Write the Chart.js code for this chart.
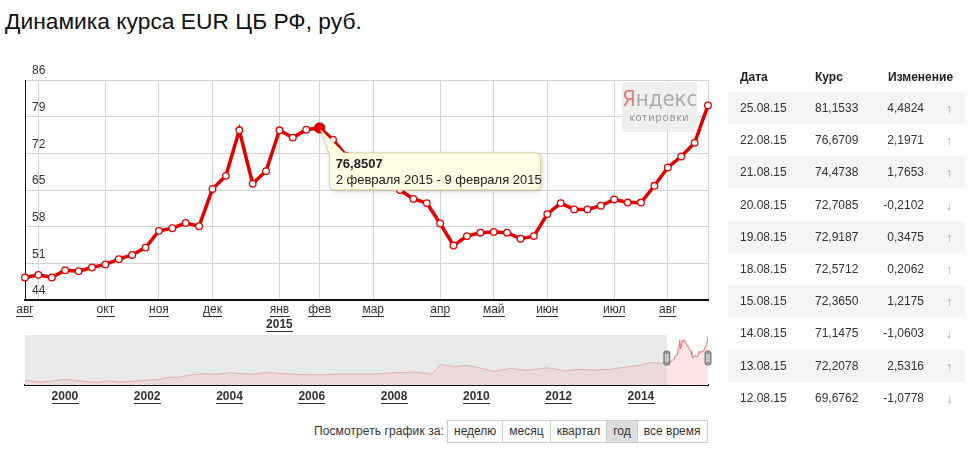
<!DOCTYPE html>
<html lang="ru">
<head>
<meta charset="utf-8">
<title>Динамика курса EUR ЦБ РФ</title>
<script src="https://cdn.jsdelivr.net/npm/chart.js@4.4.1/dist/chart.umd.min.js"></script>
<style>
  body { margin: 0; background: #fff; font-family: Arial, "Liberation Sans", sans-serif; color: #333; }
  #page { position: relative; width: 976px; height: 465px; overflow: hidden; }
  h1 { position: absolute; left: 5px; top: 8px; margin: 0; font-weight: normal; font-size: 22.8px; color: #111; white-space: nowrap; }
  #mainWrap { position: absolute; left: 0; top: 55px; width: 720px; height: 285px; }
  #navWrap { position: absolute; left: 0; top: 330px; width: 720px; height: 80px; }
  .logo { position: absolute; left: 622px; top: 82px; width: 75px; height: 50px; background: rgba(236,236,236,0.85); border-radius: 3px; text-align: center; }
  .logo .ya { font-family: "Liberation Sans Narrow", "DejaVu Sans Condensed", sans-serif; font-size: 22px; color: #aaa; margin-top: 6px; line-height: 22px; }
  .logo .ya b { font-weight: normal; color: #e57c7c; }
  .logo .kt { font-size: 11px; color: #999; letter-spacing: 1px; line-height: 14px; }
  .row { position: absolute; left: 728px; width: 237px; height: 32px; font-size: 12px; }
  .row span { position: absolute; top: 50%; transform: translateY(-50%); white-space: nowrap; }
  .row.grey { background: #f5f5f7; }
  .row.head span { font-weight: bold; color: #222; }
  .row span.up, .row span.down { font-size: 12px; transform: translateY(-45%); }
  .up { color: #62c462; }
  .down { color: #d98a8a; }
  .period { position: absolute; left: 314px; top: 420px; font-size: 12px; line-height: 23px; letter-spacing: 0.1px; }
  .btns { position: absolute; left: 447px; top: 420px; height: 23px; display: flex; border: 1px solid #ccc; box-sizing: border-box; }
  .btns div { padding: 0 6px; line-height: 21px; font-size: 12px; border-left: 1px solid #ccc; }
  .btns div:first-child { border-left: none; }
  .btns div.on { background: #ddd; }
</style>
</head>
<body>
<div id="page">
  <h1>Динамика курса EUR ЦБ РФ, руб.</h1>
  <div id="mainWrap"><canvas id="mainChart"></canvas></div>
  <div id="navWrap"><canvas id="navChart"></canvas></div>
  <div class="logo"><div class="ya"><b>Я</b>ндекс</div><div class="kt">котировки</div></div>
  <div id="table"></div>
  <div class="period">Посмотреть график за:</div>
  <div class="btns"><div>неделю</div><div>месяц</div><div>квартал</div><div class="on">год</div><div>все время</div></div>
</div>
<script>
// weekly EUR rate, Aug 2014 - Aug 2015
const eurRate = [48.3, 48.8, 48.3, 49.7, 49.5, 50.2, 50.8, 51.8, 52.6, 54.0,
  57.2, 57.7, 58.7, 58.1, 65.2, 67.7, 76.4, 66.2, 68.6, 76.4,
  75.0, 76.5, 76.8507, 74.6, 71.5, 70.3, 68.9, 67.2, 65.0, 63.3,
  62.5, 58.6, 54.4, 56.2, 56.85, 57.0, 56.85, 55.7, 56.2, 60.4,
  62.5, 61.3, 61.3, 62.0, 63.2, 62.6, 62.6, 65.8, 69.3, 71.4,
  74.0, 81.1533];

const monthTickIdx = [0, 6, 10, 14, 19, 22, 26, 31, 35, 39, 44, 48];
const monthTickText = ['авг', 'окт', 'ноя', 'дек', 'янв', 'фев', 'мар', 'апр', 'май', 'июн', 'июл', 'авг'];
const gridIdx = [1, 6, 10, 14, 19, 22, 26, 31, 35, 39, 44, 48, 51];
const yearTickIdx = 19;
const yearTickText = '2015';

const highlightIdx = 22;
const tooltipLines = ['76,8507', '2 февраля 2015 - 9 февраля 2015'];

// long history for the navigator
const histYears = [1999.0, 1999.4, 1999.8, 2000.04, 2000.5, 2000.85, 2001.05, 2001.34, 2001.83, 2002.3,
  2002.47, 2002.8, 2003.1, 2003.45, 2003.7, 2004.0, 2004.3, 2004.58, 2004.9, 2005.4,
  2005.8, 2006.2, 2006.6, 2007.0, 2007.5, 2008.0, 2008.5, 2008.8, 2008.92, 2009.13,
  2009.45, 2009.78, 2010.1, 2010.42, 2010.83, 2011.23, 2011.72, 2012.2, 2012.5, 2012.86,
  2013.27, 2013.67, 2014.0, 2014.24, 2014.45, 2014.63];
const histRates = [27.0, 24.5, 26.5, 28.0, 25.3, 24.0, 26.3, 24.5, 26.3, 28.0,
  30.3, 30.8, 34.0, 35.0, 34.2, 36.3, 35.0, 34.3, 36.6, 34.6,
  34.0, 33.5, 34.5, 34.3, 34.5, 36.3, 36.8, 35.5, 34.3, 46.5,
  43.7, 45.2, 42.0, 37.8, 41.5, 39.3, 42.3, 38.5, 40.5, 39.6,
  40.5, 43.5, 45.5, 49.0, 47.5, 48.3];
const navYears = [2000, 2002, 2004, 2006, 2008, 2010, 2012, 2014];
const navStart = 2014.63;
const navEnd = 2015.63;

const tableDates = ['25.08.15', '22.08.15', '21.08.15', '20.08.15', '19.08.15', '18.08.15', '15.08.15', '14.08.15', '13.08.15', '12.08.15'];
const tableRates = ['81,1533', '76,6709', '74,4738', '72,7085', '72,9187', '72,5712', '72,3650', '71,1475', '72,2078', '69,6762'];
const tableChanges = ['4,4824', '2,1971', '1,7653', '-0,2102', '0,3475', '0,2062', '1,2175', '-1,0603', '2,5316', '-1,0778'];

const RED = '#e10000';
const FONT = 'Arial, "Liberation Sans", sans-serif';

function underlinedText(ctx, text, x, y) {
  ctx.fillText(text, x, y);
  const w = ctx.measureText(text).width;
  ctx.fillRect(Math.round(x - w / 2), Math.round(y + 6), Math.round(w), 1);
}

const monthLabels = {
  id: 'monthLabels',
  afterDraw(chart) {
    const { ctx, chartArea } = chart;
    const x = chart.scales.x;
    ctx.save();
    ctx.fillStyle = '#333';
    ctx.textAlign = 'center';
    ctx.textBaseline = 'middle';
    ctx.font = '12px ' + FONT;
    monthTickIdx.forEach((idx, k) => {
      underlinedText(ctx, monthTickText[k], x.getPixelForValue(idx), chartArea.bottom + 10);
    });
    ctx.font = 'bold 12px ' + FONT;
    underlinedText(ctx, yearTickText, x.getPixelForValue(yearTickIdx), chartArea.bottom + 25);
    ctx.restore();
  }
};

const pointTooltip = {
  id: 'pointTooltip',
  afterDraw(chart) {
    const { ctx } = chart;
    const pt = chart.getDatasetMeta(0).data[highlightIdx];
    const bx = pt.x + 10, by = pt.y + 25, bw = 211, bh = 37, r = 5;
    ctx.save();
    ctx.beginPath();
    ctx.moveTo(pt.x + 1, pt.y + 2);
    ctx.lineTo(bx + 14, by);
    ctx.lineTo(bx + bw - r, by);
    ctx.arcTo(bx + bw, by, bx + bw, by + r, r);
    ctx.lineTo(bx + bw, by + bh - r);
    ctx.arcTo(bx + bw, by + bh, bx + bw - r, by + bh, r);
    ctx.lineTo(bx + r, by + bh);
    ctx.arcTo(bx, by + bh, bx, by + bh - r, r);
    ctx.lineTo(bx, by + 2);
    ctx.closePath();
    ctx.shadowColor = 'rgba(0,0,0,0.25)';
    ctx.shadowBlur = 4;
    ctx.shadowOffsetX = 1;
    ctx.shadowOffsetY = 1;
    ctx.fillStyle = '#fffde6';
    ctx.fill();
    ctx.shadowColor = 'transparent';
    ctx.strokeStyle = '#ddd3a0';
    ctx.lineWidth = 1;
    ctx.stroke();
    ctx.fillStyle = '#222';
    ctx.textBaseline = 'middle';
    ctx.textAlign = 'left';
    ctx.font = 'bold 13px ' + FONT;
    ctx.fillText(tooltipLines[0], bx + 6, by + 11);
    ctx.font = '13px ' + FONT;
    ctx.fillText(tooltipLines[1], bx + 6, by + 27);
    ctx.restore();
  }
};

new Chart(document.getElementById('mainChart'), {
  type: 'line',
  data: {
    labels: eurRate.map((v, i) => i),
    datasets: [{
      data: eurRate,
      borderColor: RED,
      borderWidth: 3.5,
      tension: 0,
      clip: 6,
      pointRadius: c => c.dataIndex === highlightIdx ? 5 : 3.3,
      pointBackgroundColor: c => c.dataIndex === highlightIdx ? RED : '#fff',
      pointBorderColor: RED,
      pointBorderWidth: 1.3
    }]
  },
  options: {
    responsive: true,
    maintainAspectRatio: false,
    animation: false,
    layout: { padding: { left: 25, right: 12, top: 25, bottom: 0 } },
    plugins: { legend: { display: false }, tooltip: { enabled: false } },
    scales: {
      x: {
        ticks: { display: false },
        grid: {
          color: c => gridIdx.includes(c.index) ? '#d4d4d4' : 'rgba(0,0,0,0)',
          drawTicks: false
        },
        border: { color: '#111', width: 2 },
        afterFit(s) { s.height = 40; }
      },
      y: {
        min: 44,
        max: 86,
        ticks: {
          stepSize: 7,
          mirror: true,
          padding: 7,
          labelOffset: -9,
          color: '#333',
          font: { size: 12, family: FONT }
        },
        grid: { color: '#d4d4d4', drawTicks: false },
        border: { color: '#111', width: 1 },
        afterFit(s) { s.width = 0; }
      }
    }
  },
  plugins: [monthLabels, pointTooltip]
});

const navDecor = {
  id: 'navDecor',
  beforeDatasetsDraw(chart) {
    const { ctx, chartArea } = chart;
    const sx = chart.scales.x.getPixelForValue(navStart);
    ctx.save();
    ctx.fillStyle = '#e9e9e9';
    ctx.fillRect(chartArea.left, chartArea.top, sx - chartArea.left, chartArea.bottom - chartArea.top);
    ctx.restore();
  },
  afterDraw(chart) {
    const { ctx, chartArea } = chart;
    const x = chart.scales.x;
    ctx.save();
    [x.getPixelForValue(navStart), x.getPixelForValue(navEnd)].forEach(px => {
      const cy = 28;
      ctx.fillStyle = '#9a9a9a';
      ctx.strokeStyle = '#777';
      ctx.beginPath();
      ctx.roundRect(px - 3, cy - 7, 6, 14, 2);
      ctx.fill();
      ctx.stroke();
      ctx.fillStyle = '#eee';
      ctx.fillRect(px - 1.5, cy - 4, 1, 8);
      ctx.fillRect(px + 0.5, cy - 4, 1, 8);
    });
    ctx.fillStyle = '#333';
    ctx.textAlign = 'center';
    ctx.textBaseline = 'middle';
    ctx.font = 'bold 12px ' + FONT;
    navYears.forEach(yr => underlinedText(ctx, String(yr), x.getPixelForValue(yr), chartArea.bottom + 12));
    ctx.restore();
  }
};

new Chart(document.getElementById('navChart'), {
  type: 'line',
  data: {
    datasets: [{
      data: histYears.map((yr, i) => ({ x: yr, y: histRates[i] })),
      borderColor: '#dcb4b4',
      borderWidth: 1,
      backgroundColor: 'rgba(236,200,200,0.45)',
      fill: 'start',
      pointRadius: 0,
      tension: 0
    }, {
      data: eurRate.map((v, i) => ({ x: navStart + (navEnd - navStart) * i / (eurRate.length - 1), y: v })),
      borderColor: '#e36b6b',
      borderWidth: 1,
      backgroundColor: '#fde4e4',
      fill: 'start',
      pointRadius: 0,
      tension: 0
    }]
  },
  options: {
    responsive: true,
    maintainAspectRatio: false,
    animation: false,
    layout: { padding: { left: 25, right: 12, top: 5, bottom: 0 } },
    plugins: { legend: { display: false }, tooltip: { enabled: false } },
    scales: {
      x: {
        type: 'linear',
        min: 1999.03,
        max: navEnd,
        ticks: { display: false },
        grid: { display: false },
        border: { color: '#111', width: 2 },
        afterFit(s) { s.height = 25; }
      },
      y: { display: false, min: 21, max: 83 }
    }
  },
  plugins: [navDecor]
});

// right-hand table
const table = document.getElementById('table');
function addRow(top, cls, cells) {
  const row = document.createElement('div');
  row.className = 'row ' + cls;
  row.style.top = top + 'px';
  row.innerHTML = cells;
  table.appendChild(row);
}
addRow(61, 'head', '<span style="left:12px">Дата</span><span style="left:87px">Курс</span><span style="left:160px">Изменение</span>');
tableDates.forEach((d, k) => {
  const neg = tableChanges[k].startsWith('-');
  addRow(Math.round(92 + k * 32.2), k % 2 === 0 ? 'grey' : '',
    '<span style="left:12px">' + d + '</span>' +
    '<span style="left:87px">' + tableRates[k] + '</span>' +
    '<span style="right:41px">' + tableChanges[k] + '</span>' +
    '<span style="left:218px" class="' + (neg ? 'down' : 'up') + '">' + (neg ? '↓' : '↑') + '</span>');
});
</script>
</body>
</html>
